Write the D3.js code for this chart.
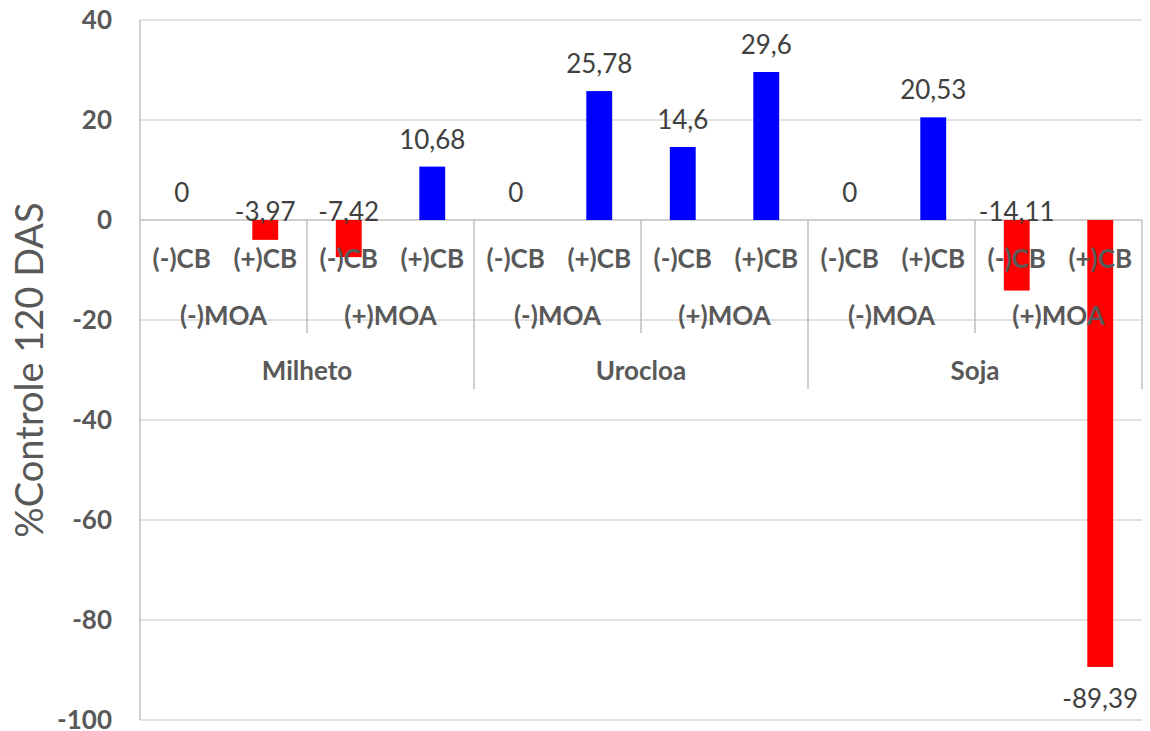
<!DOCTYPE html>
<html>
<head>
<meta charset="utf-8">
<script src="https://cdn.jsdelivr.net/npm/d3@7"></script>
<style>
  html, body { margin: 0; padding: 0; background: #ffffff; }
  svg { display: block; }
</style>
</head>
<body>
<svg id="chart" width="1150" height="731"></svg>
<script>
// ---- Data ----
const crops = ["Milheto", "Urocloa", "Soja"];
const moaLevels = ["(-)MOA", "(+)MOA"];
const cbLevels = ["(-)CB", "(+)CB"];
const values = [0, -3.97, -7.42, 10.68, 0, 25.78, 14.6, 29.6, 0, 20.53, -14.11, -89.39];
const yTicks = [40, 20, 0, -20, -40, -60, -80, -100];
const yTitle = "%Controle 120 DAS";

(function () {
// ---- Build categories ----
const cats = [];
crops.forEach(c => moaLevels.forEach(m => cbLevels.forEach(b => cats.push({ crop: c, moa: m, cb: b }))));
cats.forEach((d, i) => { d.id = i; d.value = values[i]; });

// ---- Layout ----
const W = 1150, H = 731;
const pLeft = 140, pRight = 1142, pTop = 20, pBottom = 720;
const svg = d3.select("#chart");
svg.append("rect").attr("width", W).attr("height", H).attr("fill", "#ffffff");

const y = d3.scaleLinear().domain([-100, 40]).range([pBottom, pTop]);
const xCat = d3.scaleBand().domain(cats.map(d => d.id)).range([pLeft, pRight]).padding(0);
const xBar = d3.scaleBand().domain(cats.map(d => d.id)).range([pLeft, pRight])
  .paddingInner(0.69).paddingOuter(0.345);

const labelFont = "Lato, 'Open Sans', sans-serif";
const gridColor = "#d9d9d9";
const axisColor = "#bfbfbf";
const textGray = "#595959";

// gridlines
svg.append("g").selectAll("line").data(yTicks.filter(t => t !== 0)).join("line")
  .attr("x1", pLeft).attr("x2", pRight)
  .attr("y1", d => y(d)).attr("y2", d => y(d))
  .attr("stroke", gridColor).attr("stroke-width", 1.5);

// y axis ticks
const yAxis = d3.axisLeft(y).tickValues(yTicks).tickSize(0).tickPadding(28).tickFormat(d => String(d));
const gy = svg.append("g").attr("transform", `translate(${pLeft},0)`).call(yAxis);
gy.select(".domain").remove();
gy.selectAll("text")
  .attr("fill", textGray)
  .style("font-family", labelFont)
  .style("font-size", "26px")
  .style("font-weight", "bold");

// y axis line
svg.append("line").attr("x1", pLeft).attr("x2", pLeft).attr("y1", pTop).attr("y2", pBottom)
  .attr("stroke", axisColor).attr("stroke-width", 1.5);

// zero line (category axis)
svg.append("line").attr("x1", pLeft).attr("x2", pRight).attr("y1", y(0)).attr("y2", y(0))
  .attr("stroke", axisColor).attr("stroke-width", 1.5);

// category separators
const step = xCat.step();
const sepG = svg.append("g");
cats.forEach((d, i) => {
  if (i === 0) return;
  if (i % 4 === 0) {
    sepG.append("line").attr("x1", xCat(d.id)).attr("x2", xCat(d.id))
      .attr("y1", y(0)).attr("y2", 389).attr("stroke", axisColor).attr("stroke-width", 1.5);
  } else if (i % 2 === 0) {
    sepG.append("line").attr("x1", xCat(d.id)).attr("x2", xCat(d.id))
      .attr("y1", y(0)).attr("y2", 333).attr("stroke", axisColor).attr("stroke-width", 1.5);
  }
});
sepG.append("line").attr("x1", pRight).attr("x2", pRight)
  .attr("y1", y(0)).attr("y2", 389).attr("stroke", axisColor).attr("stroke-width", 1.5);

// bars
svg.append("g").selectAll("rect").data(cats).join("rect")
  .attr("x", d => xBar(d.id))
  .attr("width", xBar.bandwidth())
  .attr("y", d => y(Math.max(0, d.value)))
  .attr("height", d => Math.abs(y(d.value) - y(0)))
  .attr("fill", d => d.value >= 0 ? "#0000ff" : "#ff0000");

// value labels
const fmt = v => String(v).replace(".", ",");
svg.append("g").selectAll("text").data(cats).join("text")
  .attr("x", d => xBar(d.id) + xBar.bandwidth() / 2)
  .attr("y", d => {
    if (d.value >= 0) return y(d.value) - 28;
    if (d.value > -20) return y(0) - 9;
    return y(d.value) + 31;
  })
  .attr("text-anchor", "middle")
  .attr("dominant-baseline", "central")
  .attr("fill", "#404040")
  .style("font-family", labelFont)
  .style("font-size", "26px")
  .text(d => fmt(d.value));

// category labels (level 1: CB)
svg.append("g").selectAll("text").data(cats).join("text")
  .attr("x", d => xCat(d.id) + step / 2)
  .attr("y", 258)
  .attr("text-anchor", "middle")
  .attr("dominant-baseline", "central")
  .attr("fill", textGray)
  .style("font-family", labelFont)
  .style("font-size", "26px")
  .style("font-weight", "bold")
  .text(d => d.cb);

// level 2: MOA
const moaGroups = [];
for (let i = 0; i < cats.length; i += 2) moaGroups.push({ label: cats[i].moa, start: cats[i].id });
svg.append("g").selectAll("text").data(moaGroups).join("text")
  .attr("x", d => xCat(d.start) + step)
  .attr("y", 315)
  .attr("text-anchor", "middle")
  .attr("dominant-baseline", "central")
  .attr("fill", textGray)
  .style("font-family", labelFont)
  .style("font-size", "26px")
  .style("font-weight", "bold")
  .text(d => d.label);

// level 3: crops
const cropGroups = crops.map((c, k) => ({ label: c, start: cats[k * 4].id }));
svg.append("g").selectAll("text").data(cropGroups).join("text")
  .attr("x", d => xCat(d.start) + step * 2)
  .attr("y", 370)
  .attr("text-anchor", "middle")
  .attr("dominant-baseline", "central")
  .attr("fill", textGray)
  .style("font-family", labelFont)
  .style("font-size", "26px")
  .style("font-weight", "bold")
  .text(d => d.label);

// y title
svg.append("text")
  .attr("transform", `translate(28,${(pTop + pBottom) / 2}) rotate(-90)`)
  .attr("text-anchor", "middle")
  .attr("dominant-baseline", "central")
  .attr("fill", textGray)
  .style("font-family", labelFont)
  .style("font-size", "38px")
  .text(yTitle);
})();
</script>
</body>
</html>
